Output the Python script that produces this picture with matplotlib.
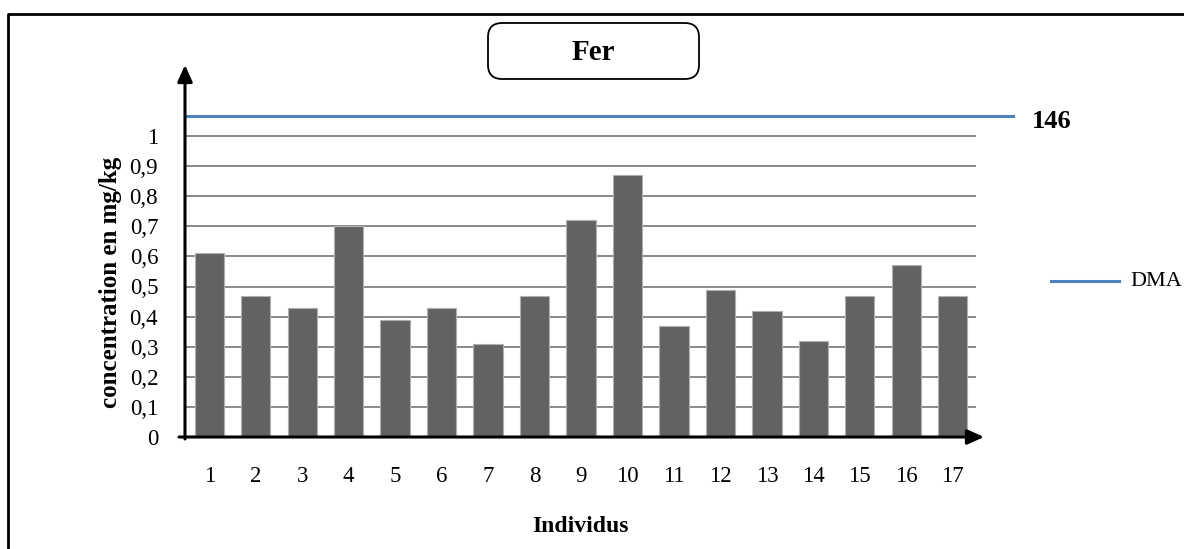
import matplotlib
matplotlib.use("Agg")
import matplotlib.pyplot as plt
from matplotlib.patches import FancyBboxPatch
from matplotlib.lines import Line2D

# ---- data ----
individus = [str(i) for i in range(1, 18)]
concentrations = [0.61, 0.47, 0.43, 0.70, 0.39, 0.43, 0.31, 0.47, 0.72, 0.87,
                  0.37, 0.49, 0.42, 0.32, 0.47, 0.57, 0.47]
dma_level = 1.066
dma_label = "146"
y_ticks = [0, 0.1, 0.2, 0.3, 0.4, 0.5, 0.6, 0.7, 0.8, 0.9, 1.0]
y_tick_labels = ["0", "0,1", "0,2", "0,3", "0,4", "0,5", "0,6", "0,7", "0,8", "0,9", "1"]

plt.rcParams['font.family'] = ['Liberation Serif', 'DejaVu Serif']

W, H = 1184, 549
fig = plt.figure(figsize=(W / 100, H / 100), dpi=100)

def fx(px):
    return px / W

def fy(py):
    return 1 - py / H

ax_left, ax_right, ax_bottom, ax_top = 186, 976, 437, 65
ax = fig.add_axes([fx(ax_left), fy(ax_bottom), fx(ax_right) - fx(ax_left), fy(ax_top) - fy(ax_bottom)])
ymax = (ax_bottom - ax_top) / (ax_bottom - 136)
ax.set_ylim(0, ymax)
x = list(range(len(individus)))
ax.set_xlim(-0.5, len(individus) - 0.5)

# gridlines
for t in y_ticks[1:]:
    ax.axhline(t, color="#8a8a8a", lw=1.4, zorder=1)

ax.bar(x, concentrations, width=0.63, color="#626262", edgecolor="#b0b0b0", linewidth=0.8, zorder=2)

# DMA line (extends beyond plot area)
xr = (1013 - ax_left) / (ax_right - ax_left) * len(individus) - 0.5
ax.plot([-0.48, xr], [dma_level, dma_level], color="#4F81BD", lw=2.2, clip_on=False, zorder=3)

for s in ax.spines.values():
    s.set_visible(False)

ax.set_xticks(x)
ax.set_xticklabels(individus, fontsize=16.5)
ax.set_yticks(y_ticks)
ax.set_yticklabels(y_tick_labels, fontsize=16.5)
ax.tick_params(axis='x', length=0, pad=21)
ax.tick_params(axis='y', length=0, pad=20)

# axes arrows
ax.annotate("", xy=(fx(984), fy(437)), xytext=(fx(179), fy(437)), xycoords='figure fraction',
            arrowprops=dict(arrowstyle="-|>,head_length=1.0,head_width=0.45", color="black", lw=2.2,
                            shrinkA=0, shrinkB=0))
ax.annotate("", xy=(fx(185), fy(65)), xytext=(fx(185), fy(439)), xycoords='figure fraction',
            arrowprops=dict(arrowstyle="-|>,head_length=1.0,head_width=0.45", color="black", lw=2.2,
                            shrinkA=0, shrinkB=0))

# axis labels
fig.text(fx(110), fy(282), "concentration en mg/kg", rotation=90, ha="center", va="center",
         fontsize=18, fontweight="bold")
fig.text(fx(580), fy(527), "Individus", ha="center", va="center", fontsize=17, fontweight="bold")

# title box
box = FancyBboxPatch((fx(488), fy(79)), fx(699) - fx(488), fy(23) - fy(79),
                     boxstyle="round,pad=0.0,rounding_size=0.012", transform=fig.transFigure,
                     facecolor="white", edgecolor="black", lw=1.3, mutation_aspect=W / H)
fig.patches.append(box)
fig.text(fx(593), fy(52), "Fer", ha="center", va="center", fontsize=21, fontweight="bold")

# DMA value label
fig.text(fx(1032), fy(121), dma_label, ha="left", va="center", fontsize=19, fontweight="bold")

# legend
fig.lines.append(Line2D([fx(1051), fx(1119)], [fy(281), fy(281)], transform=fig.transFigure,
                        color="#4F81BD", lw=2.2))
fig.text(fx(1130), fy(281), "DMA", ha="left", va="center", fontsize=16)

# outer border (left and top visible)
fig.lines.append(Line2D([fx(8), fx(8), fx(1184)], [fy(549), fy(14), fy(14)], transform=fig.transFigure,
                        color="black", lw=2.0))

fig.savefig("out.png", dpi=100)
